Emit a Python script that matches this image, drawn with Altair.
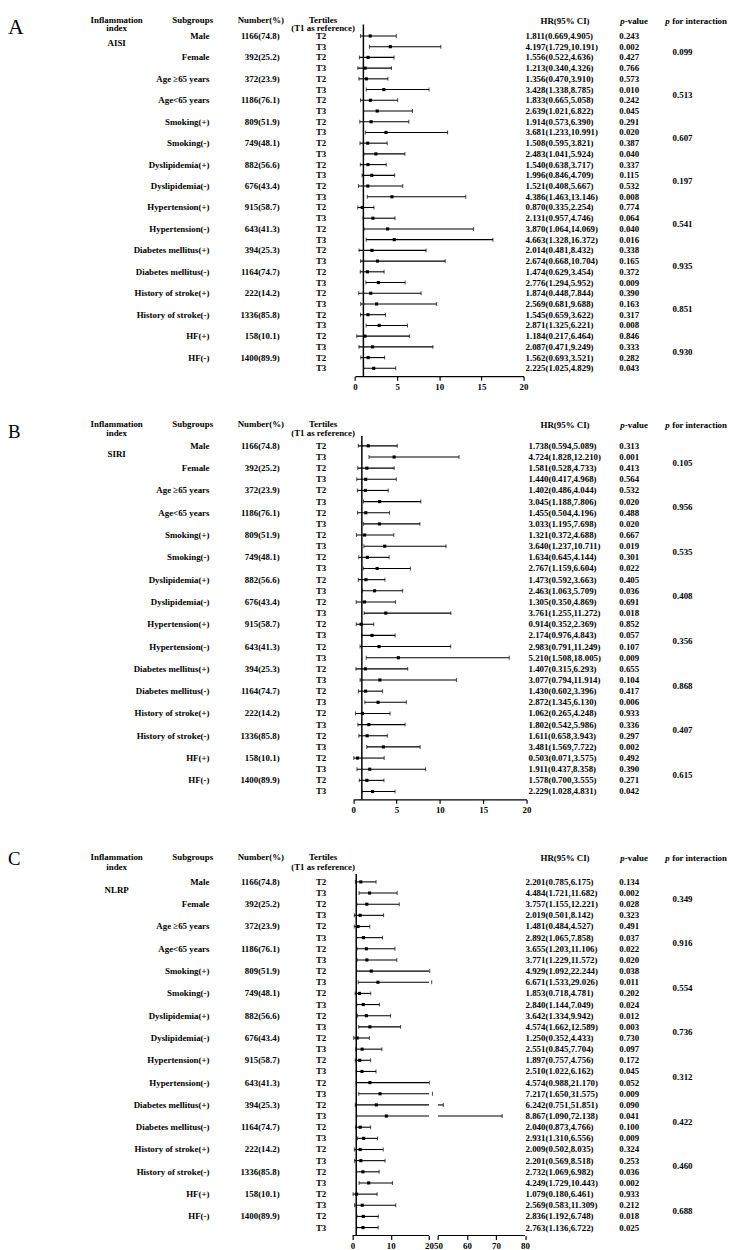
import altair as alt
import pandas as pd

# ---------------- data ----------------
subgroups = ["Male", "Female", "Age \u226565 years", "Age<65 years", "Smoking(+)", "Smoking(-)",
             "Dyslipidemia(+)", "Dyslipidemia(-)", "Hypertension(+)", "Hypertension(-)",
             "Diabetes mellitus(+)", "Diabetes mellitus(-)", "History of stroke(+)",
             "History of stroke(-)", "HF(+)", "HF(-)"]
numbers = ["1166(74.8)", "392(25.2)", "372(23.9)", "1186(76.1)", "809(51.9)", "749(48.1)",
           "882(56.6)", "676(43.4)", "915(58.7)", "643(41.3)", "394(25.3)", "1164(74.7)",
           "222(14.2)", "1336(85.8)", "158(10.1)", "1400(89.9)"]
tertiles = ["T2", "T3"]

aisi_hr = [1.811, 4.197, 1.556, 1.213, 1.356, 3.428, 1.833, 2.639, 1.914, 3.681, 1.508, 2.483,
           1.540, 1.996, 1.521, 4.386, 0.870, 2.131, 3.870, 4.663, 2.014, 2.674, 1.474, 2.776,
           1.874, 2.569, 1.545, 2.871, 1.184, 2.087, 1.562, 2.225]
aisi_lo = [0.669, 1.729, 0.522, 0.340, 0.470, 1.338, 0.665, 1.021, 0.573, 1.233, 0.595, 1.041,
           0.638, 0.846, 0.408, 1.463, 0.335, 0.957, 1.064, 1.328, 0.481, 0.668, 0.629, 1.294,
           0.448, 0.681, 0.659, 1.325, 0.217, 0.471, 0.693, 1.025]
aisi_hi = [4.905, 10.191, 4.636, 4.326, 3.910, 8.785, 5.058, 6.822, 6.390, 10.991, 3.821, 5.924,
           3.717, 4.709, 5.667, 13.146, 2.254, 4.746, 14.069, 16.372, 8.432, 10.704, 3.454, 5.952,
           7.844, 9.688, 3.622, 6.221, 6.464, 9.249, 3.521, 4.829]
aisi_p = ["0.243", "0.002", "0.427", "0.766", "0.573", "0.010", "0.242", "0.045", "0.291", "0.020",
          "0.387", "0.040", "0.337", "0.115", "0.532", "0.008", "0.774", "0.064", "0.040", "0.016",
          "0.338", "0.165", "0.372", "0.009", "0.390", "0.163", "0.317", "0.008", "0.846", "0.333",
          "0.282", "0.043"]
aisi_pint = ["0.099", "0.513", "0.607", "0.197", "0.541", "0.935", "0.851", "0.930"]

siri_hr = [1.738, 4.724, 1.581, 1.440, 1.402, 3.045, 1.455, 3.033, 1.321, 3.640, 1.634, 2.767,
           1.473, 2.463, 1.305, 3.761, 0.914, 2.174, 2.983, 5.210, 1.407, 3.077, 1.430, 2.872,
           1.062, 1.802, 1.611, 3.481, 0.503, 1.911, 1.578, 2.229]
siri_lo = [0.594, 1.828, 0.528, 0.417, 0.486, 1.188, 0.504, 1.195, 0.372, 1.237, 0.645, 1.159,
           0.592, 1.063, 0.350, 1.255, 0.352, 0.976, 0.791, 1.508, 0.315, 0.794, 0.602, 1.345,
           0.265, 0.542, 0.658, 1.569, 0.071, 0.437, 0.700, 1.028]
siri_hi = [5.089, 12.210, 4.733, 4.968, 4.044, 7.806, 4.196, 7.698, 4.688, 10.711, 4.144, 6.604,
           3.663, 5.709, 4.869, 11.272, 2.369, 4.843, 11.249, 18.005, 6.293, 11.914, 3.396, 6.130,
           4.248, 5.986, 3.943, 7.722, 3.575, 8.358, 3.555, 4.831]
siri_p = ["0.313", "0.001", "0.413", "0.564", "0.532", "0.020", "0.488", "0.020", "0.667", "0.019",
          "0.301", "0.022", "0.405", "0.036", "0.691", "0.018", "0.852", "0.057", "0.107", "0.009",
          "0.655", "0.104", "0.417", "0.006", "0.933", "0.336", "0.297", "0.002", "0.492", "0.390",
          "0.271", "0.042"]
siri_pint = ["0.105", "0.956", "0.535", "0.408", "0.356", "0.868", "0.407", "0.615"]

nlrp_hr = [2.201, 4.484, 3.757, 2.019, 1.481, 2.892, 3.655, 3.771, 4.929, 6.671, 1.853, 2.840,
           3.642, 4.574, 1.250, 2.551, 1.897, 2.510, 4.574, 7.217, 6.242, 8.867, 2.040, 2.931,
           2.009, 2.201, 2.732, 4.249, 1.079, 2.569, 2.836, 2.763]
nlrp_lo = [0.785, 1.721, 1.155, 0.501, 0.484, 1.065, 1.203, 1.229, 1.092, 1.533, 0.718, 1.144,
           1.334, 1.662, 0.352, 0.845, 0.757, 1.022, 0.988, 1.650, 0.751, 1.090, 0.873, 1.310,
           0.502, 0.569, 1.069, 1.729, 0.180, 0.583, 1.192, 1.136]
nlrp_hi = [6.175, 11.682, 12.221, 8.142, 4.527, 7.858, 11.106, 11.572, 22.244, 29.026, 4.781, 7.049,
           9.942, 12.589, 4.433, 7.704, 4.756, 6.162, 21.170, 31.575, 51.851, 72.138, 4.766, 6.556,
           8.035, 8.518, 6.982, 10.443, 6.461, 11.309, 6.748, 6.722]
nlrp_p = ["0.134", "0.002", "0.028", "0.323", "0.491", "0.037", "0.022", "0.020", "0.038", "0.011",
          "0.202", "0.024", "0.012", "0.003", "0.730", "0.097", "0.172", "0.045", "0.052", "0.009",
          "0.090", "0.041", "0.100", "0.009", "0.324", "0.253", "0.036", "0.002", "0.933", "0.212",
          "0.018", "0.025"]
nlrp_pint = ["0.349", "0.916", "0.554", "0.736", "0.312", "0.422", "0.460", "0.688"]

# ---------------- helpers ----------------
ONE = pd.DataFrame({"k": [0]})
W = 720


def label(txt, x, y, align="center", size=9, weight="bold", style="normal", baseline="middle"):
    return alt.Chart(ONE).mark_text(align=align, baseline=baseline, fontSize=size,
                                    fontWeight=weight, fontStyle=style).encode(
        x=alt.value(x), y=alt.value(y), text=alt.value(txt))


def panel(letter, index_name, hr, lo, hi, pvals, pint, L, broken=False):
    rows = pd.DataFrame({
        "row": list(range(32)),
        "tert": tertiles * 16,
        "hr": hr, "lo": lo, "hi": hi, "p": pvals,
        "hrtxt": [f"{a:.3f}({b:.3f},{c:.3f})" for a, b, c in zip(hr, lo, hi)],
    })
    subs = pd.DataFrame({"row": [2 * i for i in range(16)], "sub": subgroups, "num": numbers})
    pints = pd.DataFrame({"row": [4 * i + 1.5 for i in range(8)], "pint": pint})
    idx = pd.DataFrame({"row": [0.7], "name": [index_name]})

    ys = alt.Scale(domain=[0, 31], range=[L["r0"], L["rN"]], nice=False, zero=False)
    Y = alt.Y("row:Q", scale=ys, axis=None)
    if broken:
        xs = alt.Scale(domain=[0, 20, 50, 80], range=L["xr"], nice=False, zero=False)
        ticks = [0, 10, 20, 50, 60, 70, 80]
    else:
        xs = alt.Scale(domain=[0, 20], range=L["xr"], nice=False, zero=False)
        ticks = [0, 5, 10, 15, 20]
    ax = alt.Axis(values=ticks, title=None, grid=False, domain=not broken, domainColor="black",
                  domainWidth=1.2, tickColor="black", tickWidth=1.2, tickSize=4,
                  labelColor="black", labelFont="Liberation Serif", labelFontWeight="bold",
                  labelFontSize=9, labelPadding=2, labelFlush=False)

    def X(f):
        return alt.X(f, scale=xs, axis=ax)

    base = alt.Chart(rows)
    layers = []
    # reference line at HR = 1
    layers.append(alt.Chart(ONE).mark_rule(color="black", strokeWidth=1.5).encode(
        x=alt.XDatum(1, type="quantitative", scale=xs, axis=ax),
        y=alt.value(L["ref_top"]), y2=alt.value(L["h"])))
    if broken:
        segs = pd.DataFrame({"a": [0, 50], "b": [20, 80]})
        layers.append(alt.Chart(segs).mark_rule(color="black", strokeWidth=1.2).encode(
            x=X("a:Q"), x2="b:Q", y=alt.value(L["h"])))
        layers.append(base.transform_calculate(hi1="min(datum.hi, 20)").mark_rule(
            color="black", strokeWidth=1.1).encode(x=X("lo:Q"), x2="hi1:Q", y=Y))
        layers.append(base.transform_filter("datum.hi > 50").transform_calculate(lo2="50")
                      .mark_rule(color="black", strokeWidth=1.1).encode(x=X("lo2:Q"), x2="hi:Q", y=Y))
    else:
        layers.append(base.mark_rule(color="black", strokeWidth=1.1).encode(
            x=X("lo:Q"), x2="hi:Q", y=Y))
    layers.append(base.mark_tick(orient="vertical", size=4, thickness=1, color="black").encode(
        x=X("lo:Q"), y=Y))
    layers.append(base.mark_tick(orient="vertical", size=4, thickness=1, color="black").encode(
        x=X("hi:Q"), y=Y))
    layers.append(base.mark_square(size=10, color="black", opacity=1).encode(x=X("hr:Q"), y=Y))

    # row texts
    layers.append(base.mark_text(align="center", baseline="middle").encode(
        x=alt.value(317), y=Y, text="tert:N"))
    layers.append(base.mark_text(align="left", baseline="middle").encode(
        x=alt.value(L["hrx"]), y=Y, text="hrtxt:N"))
    layers.append(base.mark_text(align="center", baseline="middle").encode(
        x=alt.value(629), y=Y, text="p:N"))
    layers.append(alt.Chart(subs).mark_text(align="right", baseline="middle").encode(
        x=alt.value(204), y=Y, text="sub:N"))
    layers.append(alt.Chart(subs).mark_text(align="right", baseline="middle").encode(
        x=alt.value(275), y=Y, text="num:N"))
    layers.append(alt.Chart(pints).mark_text(align="center", baseline="middle").encode(
        x=alt.value(683), y=Y, text="pint:N"))
    layers.append(alt.Chart(idx).mark_text(align="center", baseline="middle").encode(
        x=alt.value(110), y=Y, text="name:N"))

    # headers
    h1, h2 = L["h1"], L["h2"]
    layers += [
        label(letter, 0, L["ly"], align="left", size=L["ls"], weight="normal", baseline="top"),
        label("Inflammation", 110, h1), label("index", 110, h2),
        label("Subgroups", 187, h1),
        label("Number(%)", 256, h1),
        label("Tertiles", 319, h1), label("(T1 as reference)", 319, h2),
        label("HR(95% CI)", 564, h1 + 1),
        label("p", 624.5, h1 + 1, align="right", style="italic"),
        label("-value", 624.5, h1 + 1, align="left"),
        label("p", 670, h1 + 1, align="right", style="italic"),
        label("for interaction", 672.5, h1 + 1, align="left"),
    ]
    return alt.layer(*layers).properties(width=W, height=L["h"])


LA = dict(h=365, r0=20.5, rN=357, h1=4.5, h2=12.5, ly=2, ls=22, ref_top=9,
          xr=[351.3, 522], hrx=524)
LB = dict(h=384.5, r0=26.5, rN=376.5, h1=4.5, h2=13.5, ly=4, ls=19, ref_top=16.5,
          xr=[349.5, 525], hrx=527)
LC = dict(h=397, r0=39, rN=389, h1=14, h2=24, ly=7, ls=19, ref_top=31,
          xr=[348.7, 426.3, 435.3, 523.5], hrx=524)

pA = panel("A", "AISI", aisi_hr, aisi_lo, aisi_hi, aisi_p, aisi_pint, LA)
pB = panel("B", "SIRI", siri_hr, siri_lo, siri_hi, siri_p, siri_pint, LB)
pC = panel("C", "NLRP", nlrp_hr, nlrp_lo, nlrp_hi, nlrp_p, nlrp_pint, LC, broken=True)

chart = alt.vconcat(pA, pB, pC, spacing=29).properties(
    padding=0, background="white"
).configure_view(stroke=None).configure_text(
    font="Liberation Serif", fontWeight="bold", fontSize=9, color="black"
)

chart.save("out.html", embed_options={"renderer": "svg", "actions": False})
